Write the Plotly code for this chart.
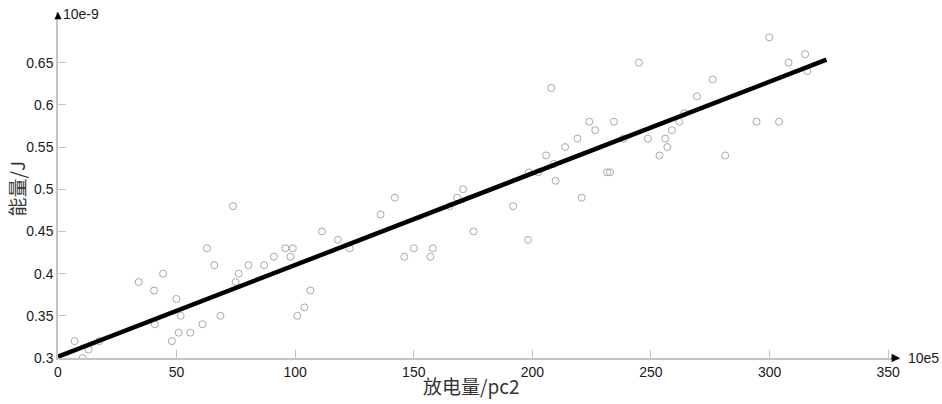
import plotly.graph_objects as go

# discharge quantity (pc2, x10e5) and energy (J, x10e-9)
discharge = [7, 10.4, 12.9, 17.4, 34, 40.5, 40.8, 44.3, 48, 49.9, 50.9, 51.7, 55.8,
             60.9, 62.8, 65.9, 68.5, 73.8, 74.9, 76.2, 80.3, 86.9, 91, 95.9, 98, 99,
             100.9, 103.9, 106.4, 111.3, 118, 123, 136, 142, 146, 150, 157, 158,
             165.2, 168.3, 170.8, 175.2, 191.9, 198.2, 198.5, 202.4, 205.8, 208,
             209, 209.8, 213.8, 219, 220.8, 224, 226.5, 231.5, 232.7, 234.4, 238.4,
             244.9, 248.7, 253.6, 256, 256.9, 258.8, 261.9, 264, 269.4, 276, 281.3,
             294.5, 299.9, 304, 308, 315, 315.9]
energy = [0.32, 0.30, 0.31, 0.32, 0.39, 0.38, 0.34, 0.40, 0.32, 0.37, 0.33, 0.35, 0.33,
          0.34, 0.43, 0.41, 0.35, 0.48, 0.39, 0.40, 0.41, 0.41, 0.42, 0.43, 0.42, 0.43,
          0.35, 0.36, 0.38, 0.45, 0.44, 0.43, 0.47, 0.49, 0.42, 0.43, 0.42, 0.43,
          0.48, 0.49, 0.50, 0.45, 0.48, 0.44, 0.52, 0.52, 0.54, 0.62,
          0.53, 0.51, 0.55, 0.56, 0.49, 0.58, 0.57, 0.52, 0.52, 0.58, 0.56,
          0.65, 0.56, 0.54, 0.56, 0.55, 0.57, 0.58, 0.59, 0.61, 0.63, 0.54,
          0.58, 0.68, 0.58, 0.65, 0.66, 0.64]

# fitted line end points
fit_x = [0, 324]
fit_y = [0.3016, 0.6535]

x_ticks = [0, 50, 100, 150, 200, 250, 300, 350]
y_ticks = [0.3, 0.35, 0.4, 0.45, 0.5, 0.55, 0.6, 0.65]
y_labels = ['0.3', '0.35', '0.4', '0.45', '0.5', '0.55', '0.6', '0.65']

fig = go.Figure()

fig.add_trace(go.Scatter(x=discharge, y=energy, mode='markers',
                         marker=dict(symbol='circle-open', size=7,
                                     color='#a8a8a8', line=dict(width=1, color='#a8a8a8')),
                         showlegend=False))

fig.add_trace(go.Scatter(x=fit_x, y=fit_y, mode='lines',
                         line=dict(color='black', width=4.5),
                         showlegend=False))

axis_grey = '#c4c4c4'
title_font = dict(size=19, family='Noto Sans CJK SC', color='#333')
fig.update_layout(
    width=942, height=404,
    margin=dict(l=58, r=42, t=12, b=46),
    plot_bgcolor='white', paper_bgcolor='white',
    font=dict(family='Arial, Liberation Sans, Noto Sans CJK SC', size=14, color='#1a1a1a'),
    xaxis=dict(range=[0, 355], tickvals=x_ticks, ticks='inside', ticklen=8,
               tickcolor=axis_grey, showline=True, linecolor=axis_grey, linewidth=1.5,
               showgrid=False, zeroline=False, automargin=False),
    yaxis=dict(range=[0.3, 0.71], tickvals=y_ticks, ticktext=y_labels, ticks='inside',
               ticklen=8, tickcolor=axis_grey, showline=True, linecolor=axis_grey,
               linewidth=1.5, showgrid=False, zeroline=False, automargin=False),
    annotations=[
        # axis titles
        dict(xref='paper', yref='paper', x=0.49, y=0, yshift=-27, text='放电量/pc2',
             showarrow=False, xanchor='center', yanchor='middle', font=title_font),
        dict(xref='paper', yref='paper', x=0, y=0.49, xshift=-42, text='能量/J',
             showarrow=False, textangle=-90, xanchor='center', yanchor='middle',
             font=title_font),
        # axis arrows
        dict(xref='paper', yref='paper', x=1, y=0, ax=-10, ay=0, text='',
             showarrow=True, arrowhead=2, arrowsize=1.4, arrowwidth=1.2, arrowcolor='black'),
        dict(xref='paper', yref='paper', x=0, y=1, ax=0, ay=8, text='',
             showarrow=True, arrowhead=2, arrowsize=1.2, arrowwidth=1.2, arrowcolor='black'),
        # unit exponents
        dict(xref='paper', yref='paper', x=1, y=0, xshift=6, text='10e5', showarrow=False,
             xanchor='left', yanchor='middle', font=dict(size=14)),
        dict(xref='paper', yref='paper', x=0, y=1, xshift=3, yshift=-2, text='10e-9',
             showarrow=False, xanchor='left', yanchor='middle', font=dict(size=14)),
    ],
)

# drop the default 8px body margin so the figure fills the window exactly
fig.write_html("out.html", config={'displayModeBar': False},
               post_script="document.body.style.margin = '0';")
